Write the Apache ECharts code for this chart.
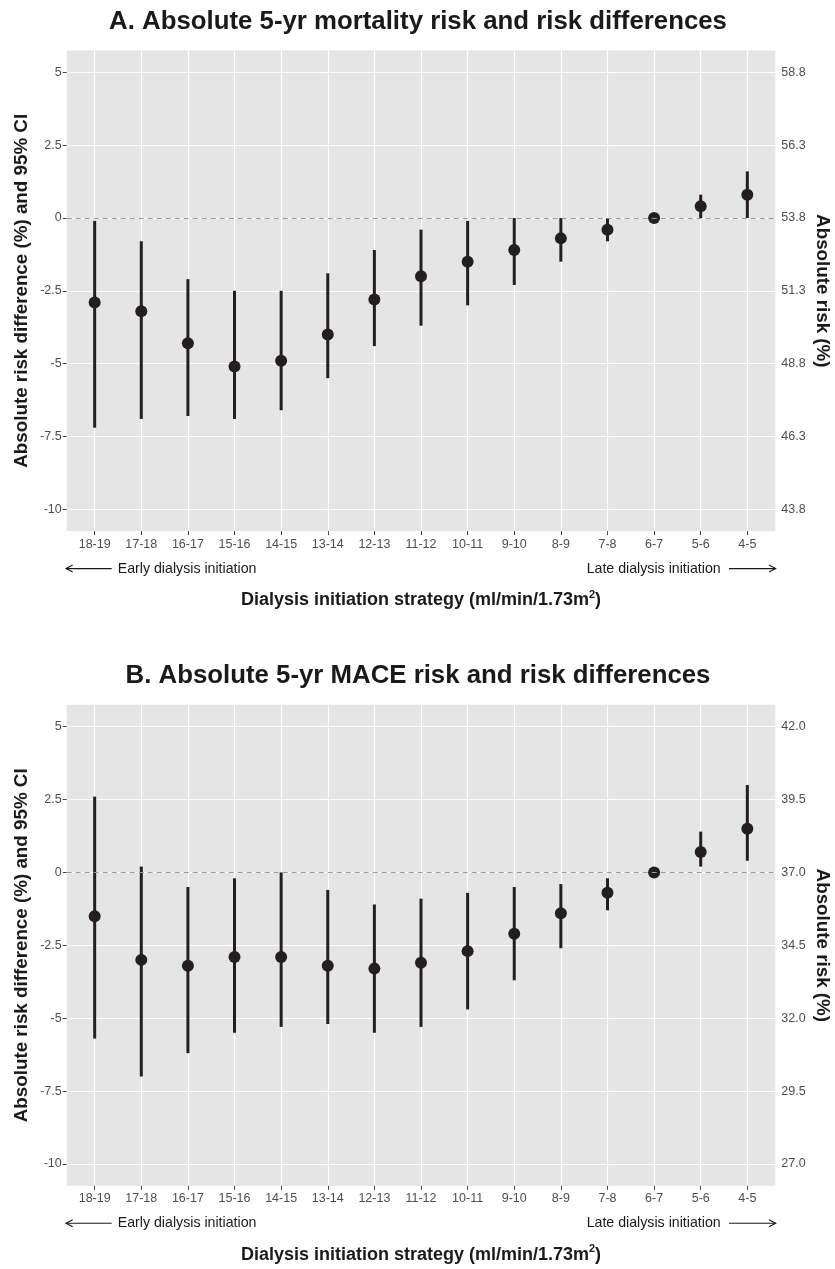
<!DOCTYPE html>
<html>
<head>
<meta charset="utf-8">
<script src="https://cdn.jsdelivr.net/npm/echarts@6/dist/echarts.min.js"></script>
<style>html,body{margin:0;padding:0;background:#fff}#chart{width:835px;height:1269px}</style>
</head>
<body>
<div id="chart"></div>
<script>
// ---------- data ----------
const categories = ['18-19','17-18','16-17','15-16','14-15','13-14','12-13','11-12','10-11','9-10','8-9','7-8','6-7','5-6','4-5'];

// Panel A: mortality risk difference (%) with 95% CI
const mortDiff = [-2.9,-3.2,-4.3,-5.1,-4.9,-4.0,-2.8,-2.0,-1.5,-1.1,-0.7,-0.4,0,0.4,0.8];
const mortLow  = [-7.2,-6.9,-6.8,-6.9,-6.6,-5.5,-4.4,-3.7,-3.0,-2.3,-1.5,-0.8,0,0,0];
const mortHigh = [-0.1,-0.8,-2.1,-2.5,-2.5,-1.9,-1.1,-0.4,-0.1,0,0,0,0,0.8,1.6];

// Panel B: MACE risk difference (%) with 95% CI
const maceDiff = [-1.5,-3.0,-3.2,-2.9,-2.9,-3.2,-3.3,-3.1,-2.7,-2.1,-1.4,-0.7,0,0.7,1.5];
const maceLow  = [-5.7,-7.0,-6.2,-5.5,-5.3,-5.2,-5.5,-5.3,-4.7,-3.7,-2.6,-1.3,0,0.2,0.4];
const maceHigh = [2.6,0.2,-0.5,-0.2,0,-0.6,-1.1,-0.9,-0.7,-0.5,-0.4,-0.2,0,1.4,3.0];

// tick labels
const diffTicks = [5,2.5,0,-2.5,-5,-7.5,-10];
const diffTickLabels = ['5','2.5','0','-2.5','-5','-7.5','-10'];
const mortRiskTickLabels = ['58.8','56.3','53.8','51.3','48.8','46.3','43.8'];
const maceRiskTickLabels = ['42.0','39.5','37.0','34.5','32.0','29.5','27.0'];

const titles = ['A. Absolute 5-yr mortality risk and risk differences','B. Absolute 5-yr MACE risk and risk differences'];
const leftName = 'Absolute risk difference (%) and 95% CI';
const rightName = 'Absolute risk (%)';
const earlyText = 'Early dialysis initiation';
const lateText = 'Late dialysis initiation';

// ---------- layout ----------
const FONT = "'Liberation Sans', Arial, Helvetica, sans-serif";
const INK = '#231f20';
const gLeft = 66.7, gWidth = 708.6;
const panels = [{top: 50.5, height: 480.6}, {top: 704.8, height: 481}];
const catIdx = categories.map((c, i) => i);

function tickIndex(v) { return diffTicks.findIndex(t => Math.abs(t - v) < 1e-6); }

const grids = [], xAxes = [], yAxes = [], series = [], graphics = [];
const sets = [
  {diff: mortDiff, low: mortLow, high: mortHigh, right: mortRiskTickLabels},
  {diff: maceDiff, low: maceLow, high: maceHigh, right: maceRiskTickLabels}
];

panels.forEach((p, k) => {
  grids.push({left: gLeft, top: p.top, width: gWidth, height: p.height, show: true,
              backgroundColor: '#e5e5e6', borderWidth: 0, containLabel: false});
  xAxes.push({
    gridIndex: k, type: 'value', min: -0.6, max: 14.6, position: 'bottom',
    axisLine: {show: false, onZero: false},
    axisTick: {show: true, length: 4, lineStyle: {color: '#444', width: 1}, customValues: catIdx},
    axisLabel: {customValues: catIdx, formatter: v => categories[Math.round(v)] || '',
                color: '#4d4d4d', fontSize: 12.5, fontFamily: FONT, margin: 6.5},
    splitLine: {show: true, lineStyle: {color: '#ffffff', width: 1.2}}
  });
  yAxes.push({
    gridIndex: k, type: 'value', position: 'left', min: -10.75, max: 5.75,
    axisLine: {show: false, onZero: false},
    axisTick: {show: true, length: 4, lineStyle: {color: '#444', width: 1}, customValues: diffTicks},
    axisLabel: {customValues: diffTicks, formatter: v => diffTickLabels[tickIndex(v)] || '',
                color: '#4d4d4d', fontSize: 12.5, fontFamily: FONT, margin: 5},
    splitLine: {show: true, lineStyle: {color: '#ffffff', width: 1.2}}
  });
  const rightLabels = sets[k].right;
  yAxes.push({
    gridIndex: k, type: 'value', position: 'right', min: -10.75, max: 5.75,
    axisLine: {show: false, onZero: false},
    axisTick: {show: false, customValues: diffTicks},
    axisLabel: {customValues: diffTicks, formatter: v => rightLabels[tickIndex(v)] || '',
                color: '#4d4d4d', fontSize: 12.5, fontFamily: FONT, margin: 6},
    splitLine: {show: false}
  });
  const s = sets[k];
  series.push({
    type: 'custom', xAxisIndex: k, yAxisIndex: 2 * k, z: 2, silent: true,
    data: catIdx.map(i => [i, s.low[i], s.high[i]]),
    renderItem: (params, api) => {
      const a = api.coord([api.value(0), api.value(1)]);
      const b = api.coord([api.value(0), api.value(2)]);
      return {type: 'line', shape: {x1: a[0], y1: a[1], x2: b[0], y2: b[1]},
              style: {stroke: INK, lineWidth: 3}};
    }
  });
  series.push({
    type: 'scatter', xAxisIndex: k, yAxisIndex: 2 * k, z: 3, silent: true,
    symbol: 'circle', symbolSize: 12, itemStyle: {color: INK, opacity: 1},
    data: catIdx.map(i => [i, s.diff[i]])
  });
  series.push({
    type: 'line', xAxisIndex: k, yAxisIndex: 2 * k, z: 4, silent: true, data: [],
    markLine: {silent: true, symbol: 'none', label: {show: false},
               lineStyle: {color: '#9a9a9a', type: [5, 4], width: 1.2},
               data: [{yAxis: 0}]}
  });

  const cx = gLeft + gWidth / 2;
  const cy = p.top + p.height / 2;
  const bottom = p.top + p.height;
  // title
  graphics.push({type: 'text', x: cx - 3, y: p.top - 28.5, style: {text: titles[k], x: 0, y: 0,
    textAlign: 'center', textVerticalAlign: 'middle', fill: '#1a1a1a',
    font: 'bold 25.8px ' + FONT}});
  // y axis names
  graphics.push({type: 'text', x: 21.7, y: cy, rotation: Math.PI / 2, style: {text: leftName, x: 0, y: 0,
    textAlign: 'center', textVerticalAlign: 'middle', fill: '#1a1a1a', font: 'bold 18.8px ' + FONT}});
  graphics.push({type: 'text', x: 821.7, y: cy, rotation: -Math.PI / 2, style: {text: rightName, x: 0, y: 0,
    textAlign: 'center', textVerticalAlign: 'middle', fill: '#1a1a1a', font: 'bold 18.8px ' + FONT}});
  // early / late annotations
  const ay = bottom + 37.5;
  graphics.push({type: 'text', x: gLeft + 51, y: ay, style: {text: earlyText, x: 0, y: 0,
    textAlign: 'left', textVerticalAlign: 'middle', fill: '#1a1a1a', font: '14.2px ' + FONT}});
  graphics.push({type: 'text', x: gLeft + gWidth - 54.6, y: ay, style: {text: lateText, x: 0, y: 0,
    textAlign: 'right', textVerticalAlign: 'middle', fill: '#1a1a1a', font: '14.2px ' + FONT}});
  // arrows
  graphics.push({type: 'line', shape: {x1: gLeft - 0.7, y1: ay, x2: gLeft + 45, y2: ay},
    style: {stroke: '#1a1a1a', lineWidth: 1.1}});
  graphics.push({type: 'polyline', shape: {points: [[gLeft + 6, ay - 3.5], [gLeft - 0.7, ay], [gLeft + 6, ay + 3.5]]},
    style: {stroke: '#1a1a1a', lineWidth: 1.1, fill: null}});
  graphics.push({type: 'line', shape: {x1: gLeft + gWidth - 46.3, y1: ay, x2: gLeft + gWidth + 0.4, y2: ay},
    style: {stroke: '#1a1a1a', lineWidth: 1.1}});
  graphics.push({type: 'polyline', shape: {points: [[gLeft + gWidth - 6.3, ay - 3.5], [gLeft + gWidth + 0.4, ay], [gLeft + gWidth - 6.3, ay + 3.5]]},
    style: {stroke: '#1a1a1a', lineWidth: 1.1, fill: null}});
  // x axis title
  graphics.push({type: 'text', x: cx, y: bottom + 69, style: {
    text: '{b|Dialysis initiation strategy (ml/min/1.73m}{s|2}{b|)}', x: 0, y: 0,
    textAlign: 'center', textVerticalAlign: 'middle', fill: '#1a1a1a',
    rich: {
      b: {font: 'bold 18px ' + FONT, fill: '#1a1a1a', lineHeight: 22},
      s: {font: 'bold 11px ' + FONT, fill: '#1a1a1a', verticalAlign: 'top', lineHeight: 22, padding: [0, 0, 0, 0]}
    }}});
});

const chart = echarts.init(document.getElementById('chart'), null, {renderer: 'canvas'});
chart.setOption({
  animation: false,
  backgroundColor: '#ffffff',
  grid: grids,
  xAxis: xAxes,
  yAxis: yAxes,
  series: series,
  graphic: {elements: graphics}
});
</script>
</body>
</html>
